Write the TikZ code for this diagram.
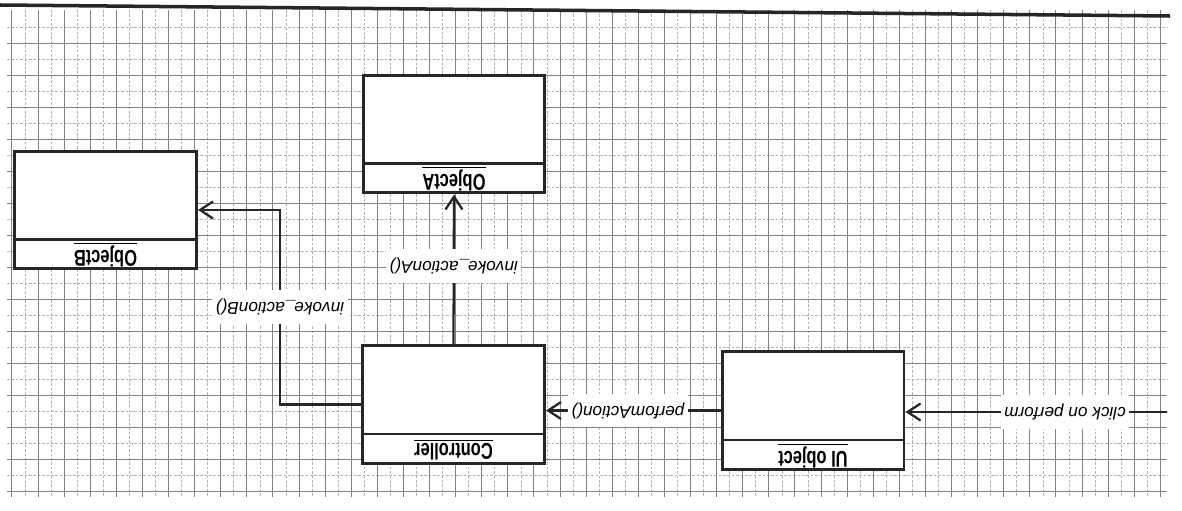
\documentclass[tikz,border=0pt]{standalone}
\usepackage{fontspec}
\setmainfont{Liberation Sans}
\newfontfamily\namefont[FakeStretch=0.72]{Liberation Sans}
\usetikzlibrary{arrows.meta,positioning,calc}

\begin{document}
\begin{tikzpicture}[x=0.02cm, y=-0.02cm,
classbox/.style={draw=black!85, line width=1.7pt, fill=white, minimum width=3.64cm, minimum height=2.36cm, inner sep=0pt},
divider/.style={draw=black!85, line width=1.7pt},
classname/.style={rotate=180, font=\namefont\bfseries\fontsize{13}{15}\selectfont, inner sep=0pt},
msg/.style={rotate=180, fill=white, font=\itshape\fontsize{9.8}{12}\selectfont, inner xsep=2pt, inner ysep=5pt},
arrow/.style={-{Straight Barb[length=2.6mm, width=3.4mm]}, line width=1.3pt, draw=black!85},
gridmajor/.style={draw=black!50, line width=0.55pt},
gridminor/.style={draw=black!30, line width=0.4pt, dash pattern=on 1.5pt off 1pt}
]
\useasboundingbox (0,0) rectangle (1182,510);
\foreach \k in {0,...,43} \draw[gridminor] ({25+26.1*\k},10) -- ++(0,487);
\foreach \k in {0,...,14} \draw[gridminor] (7,{27+32*\k}) -- ++(1160,0);
\foreach \k in {0,...,44} \draw[gridmajor] ({11.9+26.1*\k},10) -- ++(0,487);
\foreach \k in {1,...,15} \draw[gridmajor] (7,{11+32*\k}) -- ++(1160,0);
\draw[line width=2pt, black!85] (0,5) -- (1170,16);

\node[classbox] (objB) at (105.5,210) {};
\node[classbox] (objA) at (454,134) {};
\node[classbox] (ctrl) at (453.5,404.5) {};
\node[classbox] (uiobj) at (813,410.5) {};
\foreach \b in {objB,objA,ctrl,uiobj}
  \draw[divider] ([yshift=0.62cm]\b.south west) -- ([yshift=0.62cm]\b.south east);
\node[classname] (objBname) at ([yshift=0.31cm]objB.south) {\underline{ObjectB}};
\node[classname] (objAname) at ([yshift=0.31cm]objA.south) {\underline{ObjectA}};
\node[classname] (ctrlname) at ([yshift=0.31cm]ctrl.south) {\underline{Controller}};
\node[classname] (uiname) at ([yshift=0.31cm]uiobj.south) {\underline{UI object}};

\coordinate (start) at (1167,412);
\coordinate (bendB) at (280,0);
\draw[arrow] (start) -- node[msg, pos=0.39] {click on perform} (start -| uiobj.east);
\draw[arrow] (uiobj.west) -- node[msg, pos=0.53] {perfomAction()} (uiobj.west -| ctrl.east);
\draw[arrow] (ctrl.north) -- node[msg, pos=0.52] {invoke\_actionA()} (objA.south);
\draw[arrow] (ctrl.west) -- (ctrl.west -| bendB) -- node[msg] {invoke\_actionB()} (objB.east -| bendB) -- (objB.east);
\end{tikzpicture}
\end{document}
